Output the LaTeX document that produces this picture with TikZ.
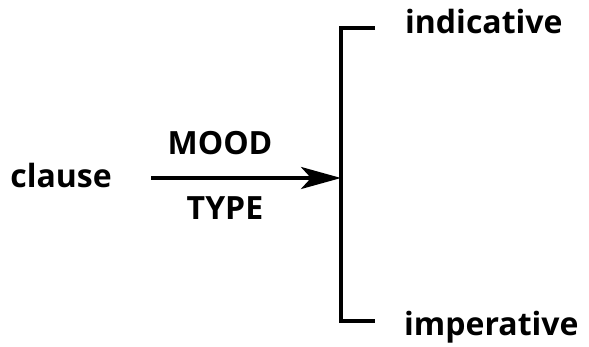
\documentclass[tikz,border=0pt]{standalone}
\usepackage{fontspec}
\setmainfont{Open Sans}[BoldFont={Open Sans Bold}]
\usetikzlibrary{arrows.meta}
\begin{document}
\begin{tikzpicture}[x=1pt,y=-1pt,
  lbl/.style={font=\fontsize{32}{36}\selectfont\bfseries, inner sep=0pt},
  bracketline/.style={line width=3.8pt},
  arrowline/.style={line width=3.8pt, -{Stealth[length=40pt,width=22pt,inset=10pt]}}]
\useasboundingbox (0,0) rectangle (589,347);
\node[lbl] (clause) at (61,176) {clause};
\node[lbl] (mood) at (220,143) {MOOD};
\node[lbl] (type) at (225,208) {TYPE};
\node[lbl, anchor=west] (ind) at (405,22) {indicative};
\node[lbl, anchor=west] (imp) at (404,327) {imperative};
\coordinate (top) at (341,28);
\coordinate (bot) at (341,321);
\coordinate (topend) at (375,28);
\coordinate (botend) at (375,321);
\coordinate (astart) at (151,178);
\coordinate (aend) at (341,178);
\draw[bracketline] (topend) -- (top) -- (bot) -- (botend);
\draw[arrowline] (astart) -- (aend);
\end{tikzpicture}
\end{document}
